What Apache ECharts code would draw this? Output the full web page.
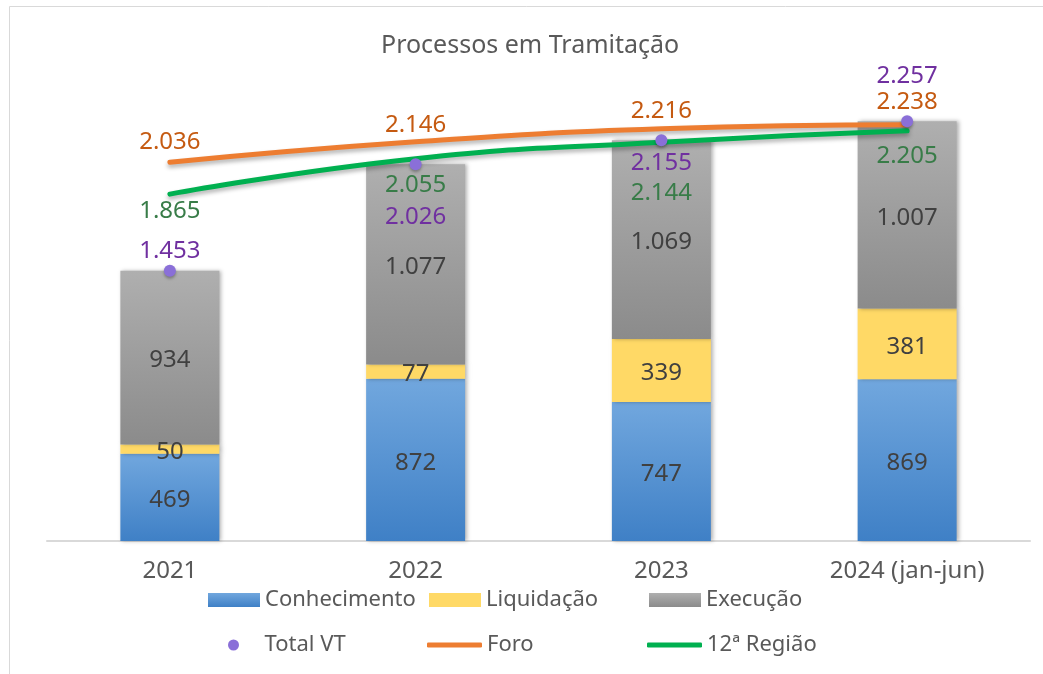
<!DOCTYPE html>
<html>
<head>
<meta charset="utf-8">
<script src="https://cdn.jsdelivr.net/npm/echarts@6/dist/echarts.min.js"></script>
<style>
html,body{margin:0;padding:0;background:#fff;}
#chart{width:1043px;height:674px;}
</style>
</head>
<body>
<div id="chart"></div>
<script>
// ---- data ----
const categories = ['2021', '2022', '2023', '2024 (jan-jun)'];
const conhecimento = [469, 872, 747, 869];
const liquidacao = [50, 77, 339, 381];
const execucao = [934, 1077, 1069, 1007];
const totalVT = [1453, 2026, 2155, 2257];
const foro = [2036, 2146, 2216, 2238];
const regiao12 = [1865, 2055, 2144, 2205];

// ---- label vertical offsets (layout only) ----
const totalLabelDy = [-20, 53, 23, -45];
const foroLabelDy = [-20, -17, -18, -23];
const regiaoLabelDy = [17, 26, 51, 25];

const FONT = '"Noto Sans", sans-serif';
const fmt = v => String(v).replace(/\B(?=(\d{3})+(?!\d))/g, '.');

function withLabels(values, dys, color) {
  return values.map((v, i) => ({
    value: v,
    label: { show: true, position: 'inside', offset: [0, dys[i]], color: color,
             fontSize: 24, fontFamily: FONT, formatter: p => fmt(p.value) }
  }));
}

const barLabel = {
  show: true, position: 'inside', offset: [0, 3], color: '#404040', fontSize: 24, fontFamily: FONT,
  formatter: p => fmt(p.value)
};
const barShadow = { shadowColor: 'rgba(0,0,0,0.3)', shadowBlur: 4, shadowOffsetX: 2, shadowOffsetY: 0 };

function legendItem(name, left, top, w, h, icon) {
  return {
    data: [name], left: left, top: top, padding: 0, itemWidth: w, itemHeight: h,
    icon: icon, itemGap: 0,
    textStyle: { fontSize: 22, color: '#595959', fontFamily: FONT }
  };
}

const chart = echarts.init(document.getElementById('chart'), null, { renderer: 'canvas' });
chart.setOption({
  backgroundColor: '#ffffff',
  animation: false,
  textStyle: { fontFamily: FONT },
  graphic: [{
    type: 'rect', silent: true, z: -10,
    shape: { x: 9.5, y: 6.5, width: 1100, height: 700 },
    style: { fill: 'none', stroke: '#d9d9d9', lineWidth: 1 }
  }],
  title: {
    text: 'Processos em Tramitação', left: 381, top: 33, padding: 0,
    textStyle: { fontSize: 25, fontWeight: 'normal', color: '#595959', fontFamily: FONT }
  },
  grid: { left: 47, right: 13, top: 76, bottom: 133, containLabel: false },
  xAxis: {
    type: 'category', data: categories,
    axisLine: { lineStyle: { color: '#d9d9d9', width: 2 } },
    axisTick: { show: false },
    axisLabel: { color: '#595959', fontSize: 24, margin: 18, fontFamily: FONT }
  },
  yAxis: { type: 'value', min: 0, max: 2500, show: false, splitLine: { show: false } },
  legend: [
    legendItem('Conhecimento', 208, 589, 52, 14, 'rect'),
    legendItem('Liquidação', 429, 589, 52, 14, 'rect'),
    legendItem('Execução', 649, 589, 52, 14, 'rect'),
    legendItem('Total VT', 228, 634, 52, 11, 'circle'),
    legendItem('Foro', 427, 634, 55, 5, 'roundRect'),
    legendItem('12ª Região', 647, 634, 55, 5, 'roundRect')
  ],
  series: [
    {
      name: 'Conhecimento', type: 'bar', stack: 'p', barWidth: 99, data: conhecimento,
      itemStyle: Object.assign({
        color: new echarts.graphic.LinearGradient(0, 0, 0, 1, [
          { offset: 0, color: '#71a7de' }, { offset: 1, color: '#3f80c6' }])
      }, barShadow),
      label: barLabel, z: 2
    },
    {
      name: 'Liquidação', type: 'bar', stack: 'p', barWidth: 99, data: liquidacao,
      itemStyle: Object.assign({ color: '#ffd966' }, barShadow),
      label: barLabel, z: 2
    },
    {
      name: 'Execução', type: 'bar', stack: 'p', barWidth: 99, data: execucao,
      itemStyle: Object.assign({
        color: new echarts.graphic.LinearGradient(0, 0, 0, 1, [
          { offset: 0, color: '#afafaf' }, { offset: 1, color: '#8b8b8b' }])
      }, barShadow),
      label: barLabel, z: 2
    },
    {
      name: 'Foro', type: 'line', smooth: 0.5, data: withLabels(foro, foroLabelDy, '#c55a11'),
      symbol: 'circle', symbolSize: 1, showSymbol: true,
      lineStyle: { color: '#ed7d31', width: 5, cap: 'round',
        shadowColor: 'rgba(0,0,0,0.3)', shadowBlur: 4, shadowOffsetY: 3 },
      itemStyle: { color: '#ed7d31' }, z: 5
    },
    {
      name: '12ª Região', type: 'line', smooth: 0.5, data: withLabels(regiao12, regiaoLabelDy, '#387c48'),
      symbol: 'circle', symbolSize: 1, showSymbol: true,
      lineStyle: { color: '#00b050', width: 5, cap: 'round',
        shadowColor: 'rgba(0,0,0,0.3)', shadowBlur: 4, shadowOffsetY: 3 },
      itemStyle: { color: '#00b050' }, z: 5
    },
    {
      name: 'Total VT', type: 'scatter', symbol: 'circle', symbolSize: 12,
      data: withLabels(totalVT, totalLabelDy, '#7030a0'),
      itemStyle: { color: '#8a6fd8', opacity: 1, shadowColor: 'rgba(0,0,0,0.3)', shadowBlur: 3, shadowOffsetY: 2 },
      z: 6
    }
  ]
});
</script>
</body>
</html>
